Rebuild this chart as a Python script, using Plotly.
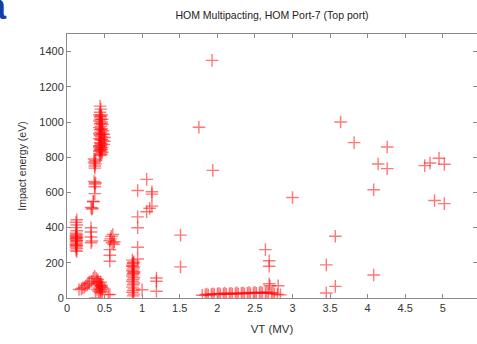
import plotly.graph_objects as go

# ---- data ----
# cluster near 0.13 MV
vt_a = [0.13, 0.12, 0.13, 0.12, 0.13, 0.12, 0.13, 0.12, 0.13, 0.12, 0.13, 0.12, 0.13, 0.12, 0.13, 0.12, 0.13, 0.12, 0.13,
        0.12, 0.13, 0.12, 0.13, 0.12]
en_a = [445, 430, 415, 400, 382, 368, 360, 350, 342, 335, 328, 320, 312, 305, 297, 290, 282, 272, 265,
        355, 345, 338, 325, 300]

# big cluster near 0.44 MV
vt_b = [0.44, 0.45, 0.44, 0.43, 0.46, 0.44, 0.45, 0.47, 0.43, 0.46, 0.44, 0.47, 0.45, 0.43, 0.46, 0.44, 0.48,
        0.45, 0.43, 0.47, 0.49, 0.44, 0.46, 0.50, 0.43, 0.45, 0.48, 0.50, 0.44, 0.46, 0.49, 0.43, 0.45, 0.47,
        0.44, 0.46, 0.43, 0.45, 0.47, 0.44, 0.46, 0.43, 0.45, 0.44, 0.45,
        0.45, 0.44, 0.46, 0.45, 0.44, 0.46, 0.45, 0.44]
en_b = [1090, 1073, 1055, 1040, 1040, 1028, 1018, 1015, 1005, 1000, 990, 985, 975, 968, 962, 955, 950,
        942, 935, 932, 930, 922, 915, 912, 905, 898, 895, 890, 882, 875, 872, 865, 858, 855,
        848, 842, 835, 830, 828, 820, 815, 858, 880, 810, 845,
        1032, 1012, 992, 958, 928, 902, 868, 838]

# small clusters 0.3 - 0.6 MV
vt_c = [0.36, 0.38, 0.37, 0.36, 0.38, 0.37, 0.37,
        0.36, 0.38, 0.37, 0.37, 0.37, 0.35,
        0.32, 0.34, 0.33, 0.35,
        0.32, 0.32, 0.32, 0.33, 0.32,
        0.61, 0.58, 0.60, 0.62, 0.57, 0.59, 0.57, 0.57, 0.57, 0.63]
en_c = [790, 782, 775, 768, 762, 750, 738,
        662, 655, 648, 632, 593, 547,
        515, 510, 505, 550,
        399, 375, 347, 324, 314,
        361, 336, 314, 305, 325, 350, 275, 243, 209, 320]

# low-energy cluster 0.15 - 0.6 MV
vt_d = [0.16, 0.19, 0.21, 0.23, 0.25, 0.27, 0.29, 0.30, 0.33, 0.35, 0.37, 0.39, 0.40, 0.41, 0.42, 0.43,
        0.44, 0.45, 0.46, 0.47, 0.43, 0.44, 0.45, 0.46, 0.44, 0.42, 0.40, 0.38, 0.55, 0.57,
        0.45, 0.46, 0.44, 0.47]
en_d = [48, 52, 57, 62, 70, 76, 82, 85, 95, 114, 123, 110, 95, 105, 88, 76,
        80, 66, 72, 58, 57, 48, 40, 50, 30, 38, 48, 0, 20, 19,
        90, 62, 70, 35]

# cluster near 0.88 MV and scattered points around 1 MV
vt_e = [0.87, 0.89, 0.88, 0.87, 0.89, 0.88, 0.87, 0.89, 0.88, 0.87, 0.89, 0.88, 0.87, 0.89, 0.88, 0.87, 0.89,
        0.88, 0.87, 0.89, 0.88, 0.88, 0.87, 0.89, 0.88,
        0.94, 0.94, 0.94, 0.94, 0.94, 1.06, 1.13, 1.13, 1.10, 1.13, 1.06, 1.00, 1.19, 1.19, 1.19]
en_e = [215, 205, 195, 185, 175, 165, 155, 145, 135, 125, 115, 105, 95, 85, 75, 62, 52,
        42, 32, 22, 12, 200, 180, 150, 140,
        611, 461, 399, 288, 222, 674, 604, 590, 510, 522, 490, 47, 114, 95, 38]

# low row 1.8 - 2.85 MV
vt_f = [1.80, 1.84, 1.88, 1.92, 1.96, 2.00, 2.04, 2.08, 2.12, 2.16, 2.20, 2.24, 2.28, 2.32, 2.36, 2.40,
        2.44, 2.48, 2.52, 2.56, 2.60, 2.64, 2.68, 2.72, 2.76, 2.80, 2.84,
        1.86, 1.94, 2.02, 2.10, 2.18, 2.26, 2.34, 2.42, 2.50, 2.58, 2.66, 2.74]
en_f = [16, 18, 17, 20, 19, 22, 20, 23, 21, 24, 22, 25, 23, 26, 24, 27,
        25, 28, 26, 29, 27, 30, 26, 28, 22, 20, 18,
        22, 24, 26, 28, 27, 29, 30, 31, 32, 33, 34, 30]

# isolated points
vt_g = [1.51, 1.51, 1.755, 1.93, 1.94, 3.00, 2.64, 2.69, 2.69, 2.69, 2.70, 2.81,
        3.64, 3.82, 4.26, 4.14, 4.26, 4.08, 4.76, 4.83, 4.95, 5.02, 4.89, 5.02,
        3.57, 3.45, 4.08, 3.57, 3.45]
en_g = [357, 177, 970, 1350, 725, 571, 275, 212, 180, 81, 70, 70,
        1000, 883, 858, 761, 735, 615, 752, 767, 794, 760, 554, 536,
        351, 188, 131, 66, 28]

vt = vt_a + vt_b + vt_c + vt_d + vt_e + vt_f + vt_g
energy = en_a + en_b + en_c + en_d + en_e + en_f + en_g

x_ticks = [0, 0.5, 1, 1.5, 2, 2.5, 3, 3.5, 4, 4.5, 5]
x_tick_text = ["0", "0.5", "1", "1.5", "2", "2.5", "3", "3.5", "4", "4.5", "5"]
y_ticks = [0, 200, 400, 600, 800, 1000, 1200, 1400]

FONT = "Liberation Sans, Arial, sans-serif"

fig = go.Figure()
fig.add_trace(go.Scatter(
    x=vt, y=energy, mode="markers",
    marker=dict(symbol="cross-thin", size=9,
                line=dict(color="rgba(255,10,10,0.55)", width=1.4)),
    hoverinfo="skip", showlegend=False,
))

axis_common = dict(
    showline=True, linecolor="#8a8a8a", linewidth=1,
    mirror="ticks", ticks="inside", ticklen=4, tickcolor="#8a8a8a",
    showgrid=False, zeroline=False,
    tickfont=dict(family=FONT, size=11, color="#333333"),
)

fig.update_layout(
    width=477, height=344,
    margin=dict(l=67, r=0, t=34, b=46),
    paper_bgcolor="white", plot_bgcolor="white",
    title=dict(text="HOM Multipacting, HOM Port-7 (Top port)",
               font=dict(family=FONT, size=10.5, color="#222222"),
               x=0.5, xref="paper", xanchor="center", y=0.955, yanchor="middle"),
    xaxis=dict(range=[0, 5.455], tickvals=x_ticks, ticktext=x_tick_text,
               title=dict(text="VT (MV)", font=dict(family=FONT, size=11.5, color="#333333"), standoff=11),
               **axis_common),
    yaxis=dict(range=[0, 1500], tickvals=y_ticks,
               title=dict(text="Impact energy (eV)", font=dict(family=FONT, size=10.5, color="#333333"), standoff=10),
               **axis_common),
    annotations=[dict(text="<b>a</b>", xref="paper", yref="paper", x=-0.142, y=1.103,
                      xanchor="right", yanchor="middle", showarrow=False,
                      font=dict(family=FONT, size=36, color="#1a3aa8"))],
)

fig.write_html("out.html")
